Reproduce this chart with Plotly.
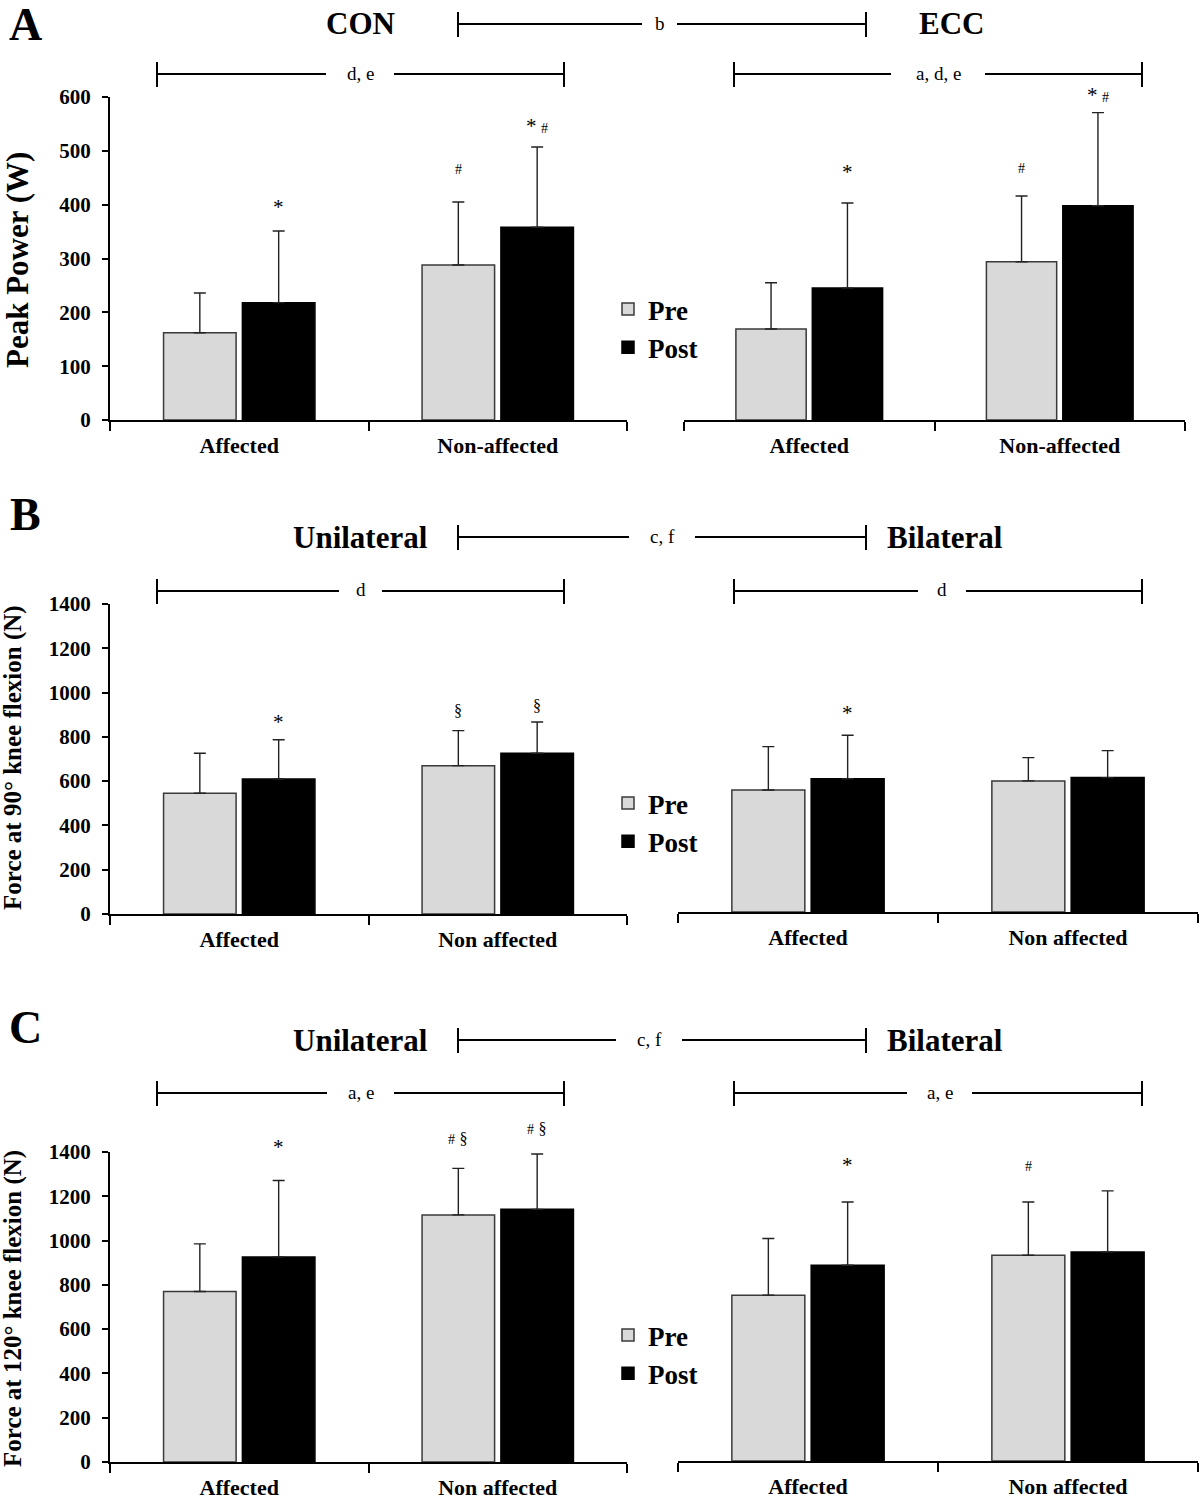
import plotly.graph_objects as go

W, H = 1200, 1499
FONT = "Liberation Serif"

# ---------------- data ----------------
cats_A = ["Affected", "Non-affected"]
cats_BC = ["Affected", "Non affected"]

A_con_pre = [162, 288]
A_con_pre_sd = [74, 117]
A_con_post = [218, 358]
A_con_post_sd = [133, 149]
A_ecc_pre = [169, 294]
A_ecc_pre_sd = [86, 122]
A_ecc_post = [245, 398]
A_ecc_post_sd = [158, 173]

B_uni_pre = [545, 670]
B_uni_pre_sd = [181, 158]
B_uni_post = [610, 726]
B_uni_post_sd = [177, 141]
B_bi_pre = [551, 592]
B_bi_pre_sd = [196, 105]
B_bi_post = [602, 607]
B_bi_post_sd = [196, 122]

C_uni_pre = [770, 1116]
C_uni_pre_sd = [215, 210]
C_uni_post = [926, 1141]
C_uni_post_sd = [345, 250]
C_bi_pre = [749, 929]
C_bi_pre_sd = [256, 241]
C_bi_post = [884, 944]
C_bi_post_sd = [286, 276]

yticks_A = [0, 100, 200, 300, 400, 500, 600]
yticks_BC = [0, 200, 400, 600, 800, 1000, 1200, 1400]

# ---------------- style / layout helpers ----------------
PRE_COLOR = "#d9d9d9"
POST_COLOR = "#000000"
BARGAP = 0.39
BARGROUPGAP = 0.08


def px_x(p):
    return p / W


def px_y(p):
    return 1 - p / H


# panel geometry in pixels: (x0, x1, ytop, ybottom)
panels = {
    "A_L": dict(ax="", x=(110, 627), y=(97, 420), rng=600, ticks=yticks_A, left=True),
    "A_R": dict(ax="2", x=(684, 1185), y=(97, 420), rng=600, ticks=yticks_A, left=False),
    "B_L": dict(ax="3", x=(110, 627), y=(604, 914), rng=1400, ticks=yticks_BC, left=True),
    "B_R": dict(ax="4", x=(678, 1198), y=(602, 912), rng=1400, ticks=yticks_BC, left=False),
    "C_L": dict(ax="5", x=(110, 627), y=(1152, 1462), rng=1400, ticks=yticks_BC, left=True),
    "C_R": dict(ax="6", x=(678, 1198), y=(1151, 1461), rng=1400, ticks=yticks_BC, left=False),
}

series = {
    "A_L": (cats_A, A_con_pre, A_con_pre_sd, A_con_post, A_con_post_sd, "legend"),
    "A_R": (cats_A, A_ecc_pre, A_ecc_pre_sd, A_ecc_post, A_ecc_post_sd, None),
    "B_L": (cats_BC, B_uni_pre, B_uni_pre_sd, B_uni_post, B_uni_post_sd, "legend2"),
    "B_R": (cats_BC, B_bi_pre, B_bi_pre_sd, B_bi_post, B_bi_post_sd, None),
    "C_L": (cats_BC, C_uni_pre, C_uni_pre_sd, C_uni_post, C_uni_post_sd, "legend3"),
    "C_R": (cats_BC, C_bi_pre, C_bi_pre_sd, C_bi_post, C_bi_post_sd, None),
}

fig = go.Figure()

for key, p in panels.items():
    cats, pre, pre_sd, post, post_sd, leg = series[key]
    xa = "x" + p["ax"]
    ya = "y" + p["ax"]
    for name, vals, sd, color, lcol in (
        ("Pre", pre, pre_sd, PRE_COLOR, "#3a3a3a"),
        ("Post", post, post_sd, POST_COLOR, "#000000"),
    ):
        fig.add_trace(
            go.Bar(
                x=cats,
                y=vals,
                name=name,
                xaxis=xa,
                yaxis=ya,
                marker=dict(color=color, line=dict(color=lcol, width=1.5)),
                error_y=dict(
                    type="data",
                    symmetric=False,
                    array=sd,
                    arrayminus=[0] * len(sd),
                    color="#222222",
                    thickness=1.4,
                    width=6,
                ),
                showlegend=leg is not None,
                legend=leg if leg else "legend",
            )
        )

    xkey = "xaxis" + p["ax"]
    ykey = "yaxis" + p["ax"]
    fig.layout[xkey] = dict(
        domain=[px_x(p["x"][0]), px_x(p["x"][1])],
        anchor=ya,
        type="category",
        range=[-0.5, 1.5],
        automargin=False,
        showline=True,
        linecolor="black",
        linewidth=2,
        ticks="outside",
        tickson="boundaries",
        ticklen=9,
        tickwidth=2,
        tickcolor="black",
        ticklabelstandoff=5,
        showgrid=False,
        zeroline=False,
        tickfont=dict(family=FONT, size=22, color="black", weight=700),
    )
    fig.layout[ykey] = dict(
        domain=[px_y(p["y"][1]), px_y(p["y"][0])],
        anchor=xa,
        range=[0, p["rng"]],
        tickvals=p["ticks"],
        automargin=False,
        showline=p["left"],
        linecolor="black",
        linewidth=2,
        ticks="outside" if p["left"] else "",
        ticklen=6,
        tickwidth=2,
        tickcolor="black",
        ticklabelstandoff=7,
        showticklabels=p["left"],
        showgrid=False,
        zeroline=False,
        tickfont=dict(family=FONT, size=21, color="black", weight=700),
    )

# ---------------- annotations ----------------
ann = []
shapes = []


def paper_text(t, x, y, size, bold=True, angle=0):
    return dict(text=t, x=px_x(x), y=px_y(y), xref="paper", yref="paper", showarrow=False,
                xanchor="center", yanchor="middle", textangle=angle,
                font=dict(family=FONT, size=size, color="black", weight=700 if bold else 400))


# panel letters
for letter, py in (("A", 25), ("B", 514), ("C", 1027)):
    ann.append(paper_text(letter, 25, py, 46))

# group headings
headings = [("CON", 360, 24), ("ECC", 951, 24),
            ("Unilateral", 360, 537), ("Bilateral", 945, 537),
            ("Unilateral", 360, 1040), ("Bilateral", 945, 1040)]
for t, x, y in headings:
    ann.append(paper_text(t, x, y, 31))

# brackets: x0, x1, y, label, gap_left, gap_right
brackets = [
    (458, 866, 24, "b", 642, 677),
    (157, 564, 74, "d, e", 326, 394),
    (734, 1142, 74, "a, d, e", 891, 985),
    (458, 866, 537, "c, f", 629, 695),
    (157, 564, 591, "d", 339, 382),
    (734, 1142, 591, "d", 918, 966),
    (458, 866, 1040, "c, f", 616, 682),
    (157, 564, 1093, "a, e", 327, 394),
    (734, 1142, 1093, "a, e", 907, 972),
]
for x0, x1, y, lab, g0, g1 in brackets:
    line = dict(color="black", width=2)
    shapes.append(dict(type="line", xref="paper", yref="paper", x0=px_x(x0), x1=px_x(g0),
                       y0=px_y(y), y1=px_y(y), line=line))
    shapes.append(dict(type="line", xref="paper", yref="paper", x0=px_x(g1), x1=px_x(x1),
                       y0=px_y(y), y1=px_y(y), line=line))
    for xe in (x0, x1):
        shapes.append(dict(type="line", xref="paper", yref="paper", x0=px_x(xe), x1=px_x(xe),
                           y0=px_y(y - 12), y1=px_y(y + 13), line=line))
    ann.append(paper_text(lab, (g0 + g1) / 2, y - 1, 19, bold=False))

# y-axis titles
ytitles = [("Peak Power (W)", 18, 260, 31), ("Force at 90° knee flexion (N)", 13, 758, 25),
           ("Force at 120° knee flexion (N)", 13, 1309, 25)]
for t, x, y, s in ytitles:
    ann.append(paper_text(t, x, y, s, angle=-90))

# significance markers: panel, category index, series (0=Pre,1=Post), text, pixel shift above SD
STAR = "<span style='font-size:21px'>*</span>"
HASH = "<span style='font-size:14px'>#</span>"
SECT = "<span style='font-size:16px'>§</span>"
marks = [
    ("A_L", 0, 1, STAR, 24), ("A_L", 1, 0, HASH, 32), ("A_L", 1, 1, STAR + " " + HASH, 21),
    ("A_R", 0, 1, STAR, 31), ("A_R", 1, 0, HASH, 28), ("A_R", 1, 1, STAR + " " + HASH, 18),
    ("B_L", 0, 1, STAR, 18), ("B_L", 1, 0, SECT, 20), ("B_L", 1, 1, SECT, 17),
    ("B_R", 0, 1, STAR, 22),
    ("C_L", 0, 1, STAR, 34), ("C_L", 1, 0, HASH + " " + SECT, 30), ("C_L", 1, 1, HASH + " " + SECT, 26),
    ("C_R", 0, 1, STAR, 37), ("C_R", 1, 0, HASH, 35),
]
off = (1 - BARGAP) / 4
for key, ci, si, txt, shift in marks:
    cats, pre, pre_sd, post, post_sd, _ = series[key]
    top = (pre[ci] + pre_sd[ci]) if si == 0 else (post[ci] + post_sd[ci])
    ax = panels[key]["ax"]
    ann.append(dict(text=txt, x=ci + (-off if si == 0 else off), y=top, xref="x" + ax, yref="y" + ax,
                    xanchor="center", yanchor="middle",
                    yshift=shift, showarrow=False, font=dict(family=FONT, size=18, color="black")))

legend_style = dict(
    xanchor="left", yanchor="top", bgcolor="rgba(0,0,0,0)",
    font=dict(family=FONT, size=27, color="black", weight=700),
    itemwidth=30, tracegroupgap=0,
)
fig.update_layout(
    width=W, height=H,
    margin=dict(l=0, r=0, t=0, b=0, pad=0, autoexpand=False),
    paper_bgcolor="white", plot_bgcolor="white",
    barmode="group", bargap=BARGAP, bargroupgap=BARGROUPGAP,
    annotations=ann, shapes=shapes,
    legend=dict(x=px_x(608), y=px_y(285), **legend_style),
    legend2=dict(x=px_x(608), y=px_y(779), **legend_style),
    legend3=dict(x=px_x(608), y=px_y(1311), **legend_style),
)

fig.write_html("out.html", config={"displayModeBar": False},
               post_script="document.body.style.margin='0px';")
